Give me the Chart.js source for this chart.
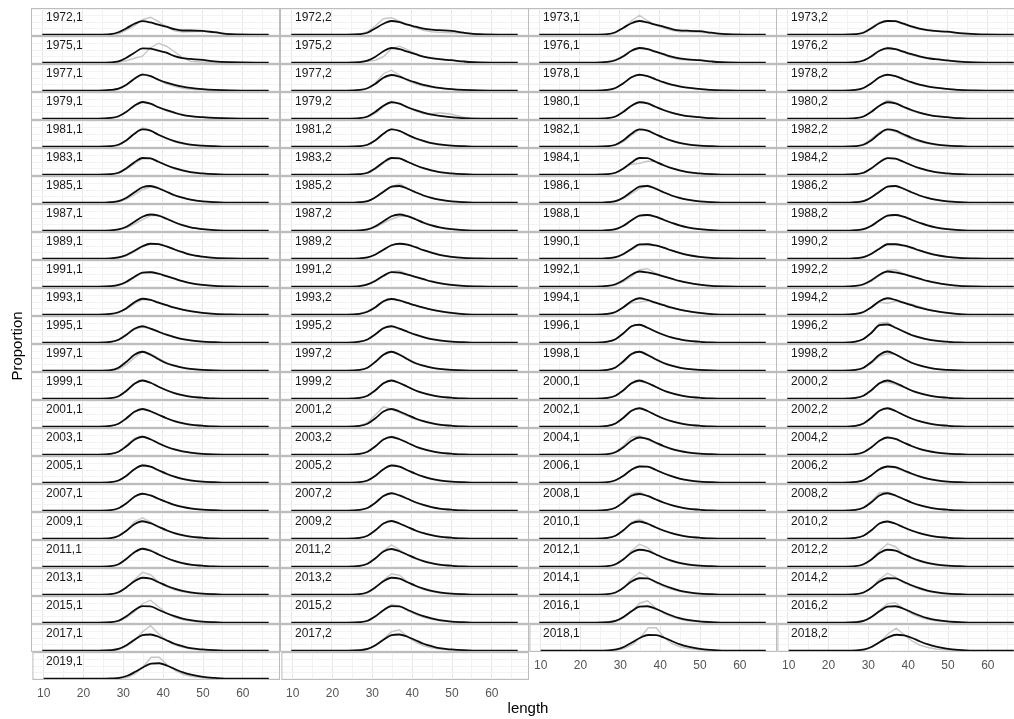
<!DOCTYPE html>
<html>
<head>
<meta charset="utf-8">
<script src="https://cdn.jsdelivr.net/npm/chart.js@4.4.0/dist/chart.umd.min.js"></script>
<style>
  html, body { margin: 0; padding: 0; background: #fff; }
  #wrap { position: relative; width: 1014px; height: 719px; overflow: hidden; background: #fff;
          font-family: "Liberation Sans", Arial, sans-serif; }
  #wrap canvas { position: absolute; }
  .lab { position: absolute; font-size: 12px; line-height: 12px; color: #1a1a1a; white-space: nowrap; }
  .ttl { position: absolute; font-size: 15px; line-height: 15px; color: #000; white-space: nowrap; }
</style>
</head>
<body>
<div id="wrap"></div>
<script>
// Length bins (cm) at which each curve is read
const lengths = [10, 24, 27, 29, 31, 33, 35, 37, 39, 41, 43, 45, 47, 50, 53, 57, 66.5];

// Facet labels "year,sex", filled row by row, four per row
const panelLabels = [
  "1972,1","1972,2","1973,1","1973,2",
  "1975,1","1975,2","1976,1","1976,2",
  "1977,1","1977,2","1978,1","1978,2",
  "1979,1","1979,2","1980,1","1980,2",
  "1981,1","1981,2","1982,1","1982,2",
  "1983,1","1983,2","1984,1","1984,2",
  "1985,1","1985,2","1986,1","1986,2",
  "1987,1","1987,2","1988,1","1988,2",
  "1989,1","1989,2","1990,1","1990,2",
  "1991,1","1991,2","1992,1","1992,2",
  "1993,1","1993,2","1994,1","1994,2",
  "1995,1","1995,2","1996,1","1996,2",
  "1997,1","1997,2","1998,1","1998,2",
  "1999,1","1999,2","2000,1","2000,2",
  "2001,1","2001,2","2002,1","2002,2",
  "2003,1","2003,2","2004,1","2004,2",
  "2005,1","2005,2","2006,1","2006,2",
  "2007,1","2007,2","2008,1","2008,2",
  "2009,1","2009,2","2010,1","2010,2",
  "2011,1","2011,2","2012,1","2012,2",
  "2013,1","2013,2","2014,1","2014,2",
  "2015,1","2015,2","2016,1","2016,2",
  "2017,1","2017,2","2018,1","2018,2",
  "2019,1"
];

// Fitted length distribution (proportion), one row per panel
const fitted = [
  [0,0,.002,.010,.026,.044,.054,.049,.040,.032,.022,.017,.017,.015,.010,.002,0],
  [0,0,.002,.008,.026,.044,.055,.050,.040,.032,.024,.020,.018,.015,.008,.002,0],
  [0,0,.002,.010,.028,.046,.055,.049,.040,.032,.023,.017,.016,.014,.008,.002,0],
  [0,0,.002,.008,.026,.046,.055,.054,.044,.033,.024,.018,.015,.012,.006,.002,0],
  [0,0,.001,.005,.020,.040,.057,.056,.048,.040,.026,.018,.015,.011,.005,.002,0],
  [0,0,.002,.008,.024,.046,.059,.054,.044,.034,.024,.018,.014,.010,.005,.001,0],
  [0,0,.003,.010,.026,.048,.059,.054,.044,.034,.024,.017,.013,.010,.005,.001,0],
  [0,0,.002,.009,.026,.048,.058,.054,.044,.034,.025,.018,.014,.009,.004,.001,0],
  [0,0,.003,.008,.024,.048,.064,.058,.044,.032,.023,.016,.011,.006,.003,.001,0],
  [0,0,.003,.010,.028,.052,.063,.056,.044,.033,.023,.016,.011,.006,.003,.001,0],
  [0,0,.003,.011,.030,.054,.064,.058,.046,.034,.024,.017,.012,.007,.003,.001,0],
  [0,0,.003,.011,.030,.054,.064,.058,.046,.034,.024,.017,.012,.007,.003,.001,0],
  [0,0,.003,.010,.028,.052,.067,.060,.046,.034,.024,.015,.010,.006,.003,.001,0],
  [0,0,.002,.009,.028,.052,.066,.060,.046,.034,.024,.016,.011,.006,.002,0,0],
  [0,0,.002,.009,.028,.052,.066,.061,.048,.035,.024,.016,.010,.006,.002,0,0],
  [0,0,.002,.009,.028,.052,.066,.061,.048,.035,.024,.016,.010,.006,.002,0,0],
  [0,0,.002,.008,.026,.052,.069,.064,.048,.034,.022,.014,.008,.004,.002,0,0],
  [0,0,.002,.008,.026,.052,.069,.063,.048,.034,.023,.014,.009,.004,.002,0,0],
  [0,0,.002,.008,.026,.052,.069,.064,.050,.036,.024,.015,.009,.004,.002,0,0],
  [0,0,.002,.008,.026,.052,.069,.064,.050,.036,.024,.015,.009,.004,.002,0,0],
  [0,0,.002,.008,.026,.050,.067,.065,.052,.038,.026,.017,.010,.005,.002,0,0],
  [0,0,.002,.008,.026,.050,.067,.065,.052,.038,.026,.017,.010,.005,.002,0,0],
  [0,0,.002,.008,.025,.049,.067,.066,.052,.038,.026,.017,.010,.005,.002,0,0],
  [0,0,.002,.008,.026,.050,.066,.064,.052,.038,.026,.017,.010,.005,.002,0,0],
  [0,0,.002,.006,.020,.042,.062,.067,.058,.044,.030,.020,.012,.005,.002,0,0],
  [0,0,.002,.006,.022,.044,.064,.067,.056,.042,.029,.019,.012,.005,.002,0,0],
  [0,0,.002,.006,.021,.044,.064,.067,.056,.042,.029,.019,.012,.005,.002,0,0],
  [0,0,.002,.006,.022,.044,.064,.067,.056,.042,.029,.019,.012,.005,.002,0,0],
  [0,0,.001,.005,.016,.036,.056,.065,.060,.048,.034,.022,.013,.006,.002,0,0],
  [0,0,.001,.005,.018,.038,.058,.065,.058,.046,.032,.021,.013,.006,.002,0,0],
  [0,0,.002,.006,.020,.042,.060,.063,.056,.044,.032,.021,.013,.006,.002,0,0],
  [0,0,.002,.006,.020,.042,.060,.063,.056,.044,.032,.021,.013,.006,.002,0,0],
  [0,0,.001,.005,.015,.032,.050,.060,.058,.049,.037,.026,.016,.008,.003,.001,0],
  [0,0,.001,.005,.017,.036,.054,.060,.056,.046,.034,.024,.015,.007,.003,.001,0],
  [0,0,.002,.006,.019,.039,.057,.058,.053,.044,.033,.023,.015,.007,.003,.001,0],
  [0,0,.002,.006,.020,.040,.058,.058,.053,.044,.033,.023,.015,.007,.003,.001,0],
  [0,0,.002,.007,.020,.040,.056,.058,.052,.042,.032,.022,.014,.007,.003,.001,0],
  [0,0,.002,.009,.024,.044,.058,.056,.048,.039,.030,.021,.014,.007,.003,.001,0],
  [0,0,.003,.010,.026,.048,.061,.057,.050,.041,.032,.023,.016,.008,.003,.001,0],
  [0,0,.003,.010,.026,.048,.061,.057,.050,.041,.032,.023,.016,.008,.003,.001,0],
  [0,0,.003,.010,.026,.050,.064,.059,.048,.038,.028,.020,.014,.007,.003,.001,0],
  [0,0,.003,.012,.030,.054,.063,.057,.047,.037,.028,.020,.014,.007,.002,0,0],
  [0,0,.003,.011,.030,.054,.066,.059,.048,.038,.028,.020,.014,.007,.002,0,0],
  [0,0,.003,.011,.030,.054,.066,.059,.048,.038,.028,.020,.014,.007,.002,0,0],
  [0,0,.003,.012,.032,.056,.066,.056,.044,.032,.022,.014,.009,.004,.002,0,0],
  [0,0,.004,.013,.034,.058,.066,.056,.044,.032,.022,.014,.009,.004,.002,0,0],
  [0,0,.004,.014,.038,.066,.072,.060,.045,.032,.021,.014,.008,.004,.001,0,0],
  [0,0,.004,.015,.040,.070,.073,.060,.045,.031,.021,.013,.008,.004,.001,0,0],
  [0,0,.002,.012,.036,.064,.076,.064,.046,.030,.020,.012,.007,.003,.001,0,0],
  [0,0,.003,.012,.036,.064,.076,.064,.046,.030,.020,.012,.007,.003,.001,0,0],
  [0,0,.003,.013,.038,.067,.076,.063,.046,.031,.020,.012,.007,.003,.001,0,0],
  [0,0,.003,.012,.035,.064,.077,.065,.048,.032,.021,.013,.007,.003,.001,0,0],
  [0,0,.002,.010,.032,.060,.073,.064,.048,.034,.022,.014,.008,.004,.001,0,0],
  [0,0,.003,.012,.034,.062,.073,.063,.048,.033,.022,.014,.008,.004,.001,0,0],
  [0,0,.003,.012,.034,.062,.073,.063,.048,.033,.022,.014,.008,.004,.001,0,0],
  [0,0,.003,.012,.034,.062,.073,.063,.048,.033,.022,.014,.008,.004,.001,0,0],
  [0,0,.003,.012,.034,.060,.071,.062,.048,.034,.022,.014,.008,.004,.001,0,0],
  [0,0,.003,.012,.034,.061,.071,.061,.047,.033,.022,.014,.008,.004,.001,0,0],
  [0,0,.003,.013,.036,.064,.074,.063,.047,.033,.022,.014,.008,.004,.001,0,0],
  [0,0,.003,.013,.036,.064,.074,.063,.047,.033,.022,.014,.008,.004,.001,0,0],
  [0,0,.003,.012,.034,.060,.072,.062,.046,.032,.021,.013,.008,.003,.001,0,0],
  [0,0,.003,.012,.034,.061,.071,.062,.048,.033,.022,.014,.008,.004,.001,0,0],
  [0,0,.002,.010,.030,.056,.069,.063,.049,.035,.023,.015,.009,.004,.002,0,0],
  [0,0,.002,.010,.030,.056,.069,.063,.049,.035,.023,.015,.009,.004,.002,0,0],
  [0,0,.002,.009,.028,.054,.069,.064,.050,.036,.024,.015,.009,.004,.002,0,0],
  [0,0,.002,.009,.028,.054,.069,.064,.050,.036,.024,.015,.009,.004,.002,0,0],
  [0,0,.002,.010,.028,.052,.065,.064,.052,.038,.026,.016,.010,.004,.002,0,0],
  [0,0,.003,.010,.030,.054,.065,.062,.050,.037,.025,.016,.010,.004,.002,0,0],
  [0,0,.002,.010,.030,.056,.068,.061,.048,.035,.023,.015,.009,.004,.002,0,0],
  [0,0,.003,.011,.032,.059,.070,.061,.048,.034,.023,.014,.008,.004,.001,0,0],
  [0,0,.003,.012,.034,.060,.067,.059,.046,.033,.022,.014,.008,.004,.001,0,0],
  [0,0,.003,.012,.034,.061,.070,.061,.047,.033,.022,.014,.008,.004,.001,0,0],
  [0,0,.002,.011,.032,.058,.070,.062,.048,.034,.022,.014,.008,.004,.001,0,0],
  [0,0,.003,.012,.034,.061,.071,.061,.047,.033,.022,.014,.008,.004,.001,0,0],
  [0,0,.003,.012,.034,.061,.069,.060,.046,.033,.022,.014,.008,.004,.001,0,0],
  [0,0,.003,.012,.034,.061,.069,.060,.046,.033,.022,.014,.008,.004,.001,0,0],
  [0,0,.002,.010,.032,.058,.072,.064,.049,.035,.023,.014,.008,.004,.001,0,0],
  [0,0,.003,.012,.034,.061,.071,.062,.048,.034,.022,.014,.008,.004,.001,0,0],
  [0,0,.002,.010,.030,.056,.068,.063,.050,.036,.024,.015,.009,.004,.002,0,0],
  [0,0,.002,.010,.029,.055,.068,.064,.050,.036,.024,.015,.009,.004,.002,0,0],
  [0,0,.002,.010,.030,.054,.068,.064,.050,.036,.024,.015,.009,.004,.002,0,0],
  [0,0,.002,.010,.030,.054,.068,.064,.050,.036,.024,.015,.009,.004,.002,0,0],
  [0,0,.002,.009,.028,.053,.066,.065,.052,.038,.026,.016,.010,.004,.002,0,0],
  [0,0,.002,.009,.028,.053,.066,.065,.052,.038,.026,.016,.010,.004,.002,0,0],
  [0,0,.002,.008,.026,.050,.066,.065,.052,.038,.026,.016,.010,.004,.002,0,0],
  [0,0,.002,.008,.026,.050,.066,.065,.052,.038,.026,.017,.010,.004,.002,0,0],
  [0,0,.002,.007,.023,.046,.064,.066,.056,.042,.029,.018,.011,.005,.002,0,0],
  [0,0,.002,.007,.023,.046,.064,.066,.056,.042,.029,.018,.011,.005,.002,0,0],
  [0,0,.002,.007,.022,.044,.062,.065,.056,.042,.028,.018,.010,.005,.002,0,0],
  [0,0,.002,.007,.022,.044,.062,.065,.056,.042,.028,.018,.010,.005,.002,0,0],
  [0,0,.001,.005,.016,.034,.052,.063,.062,.052,.038,.025,.016,.007,.003,0,0],
  [0,0,.001,.005,.017,.036,.054,.064,.061,.051,.037,.025,.016,.007,.003,0,0],
  [0,0,.001,.003,.012,.028,.046,.060,.062,.052,.038,.025,.016,.007,.003,0,0]
];

// Observed length composition (proportion), one row per panel
const observed = [
  [0,0,.001,.004,.018,.036,.060,.070,.052,.032,.016,.011,.012,.014,.008,.002,0],
  [0,0,.002,.012,.036,.064,.068,.054,.040,.028,.018,.012,.010,.008,.006,.001,0],
  [0,0,.002,.008,.026,.056,.078,.056,.038,.028,.018,.012,.012,.010,.006,.001,0],
  [0,0,.002,.010,.030,.050,.056,.053,.042,.031,.022,.017,.014,.011,.005,.001,0],
  [0,0,0,.002,.008,.018,.026,.060,.078,.066,.044,.020,.006,.002,.002,0,0],
  [0,0,.002,.006,.010,.024,.056,.066,.052,.036,.024,.017,.013,.009,.005,.001,0],
  [0,0,.004,.012,.028,.048,.058,.056,.044,.032,.020,.013,.011,.009,.005,.001,0],
  [0,0,.002,.008,.025,.048,.061,.054,.042,.032,.023,.017,.013,.009,.004,.001,0],
  [0,0,.002,.006,.024,.050,.068,.060,.042,.028,.018,.010,.006,.004,.002,0,0],
  [0,0,.002,.010,.032,.068,.082,.062,.040,.028,.019,.014,.010,.006,.002,0,0],
  [0,0,.002,.010,.029,.054,.065,.058,.045,.033,.023,.016,.011,.007,.003,0,0],
  [0,0,.002,.010,.029,.054,.065,.058,.045,.033,.023,.016,.012,.007,.003,0,0],
  [0,0,.002,.008,.028,.054,.068,.060,.044,.032,.022,.014,.009,.005,.002,.001,0],
  [0,0,.002,.006,.022,.048,.070,.060,.044,.032,.020,.020,.024,.018,.006,.001,0],
  [0,0,.002,.008,.026,.051,.068,.064,.048,.034,.023,.015,.010,.005,.002,0,0],
  [0,0,.002,.008,.026,.052,.074,.064,.045,.032,.022,.015,.010,.005,.002,0,0],
  [0,0,.001,.006,.024,.052,.076,.066,.046,.032,.020,.012,.007,.003,.001,0,0],
  [0,0,.002,.007,.025,.052,.072,.063,.046,.032,.021,.014,.008,.004,.002,0,0],
  [0,0,.001,.006,.020,.046,.068,.066,.050,.036,.023,.014,.009,.004,.002,0,0],
  [0,0,.002,.010,.032,.058,.070,.060,.044,.030,.020,.013,.008,.004,.002,0,0],
  [0,0,.001,.006,.022,.044,.064,.066,.052,.036,.024,.016,.009,.004,.002,0,0],
  [0,0,.002,.006,.022,.046,.066,.066,.052,.037,.025,.016,.010,.004,.002,0,0],
  [0,0,.002,.007,.024,.042,.046,.054,.054,.040,.027,.017,.010,.005,.002,0,0],
  [0,0,.002,.007,.024,.049,.067,.064,.051,.037,.025,.016,.010,.004,.002,0,0],
  [0,0,.001,.004,.014,.032,.052,.063,.058,.044,.030,.020,.012,.005,.002,0,0],
  [0,0,.001,.005,.020,.042,.064,.076,.058,.041,.028,.018,.011,.005,.002,0,0],
  [0,0,.001,.005,.016,.036,.056,.070,.060,.042,.028,.018,.011,.005,.002,0,0],
  [0,0,.001,.006,.021,.044,.065,.068,.056,.041,.028,.019,.011,.005,.002,0,0],
  [0,0,.001,.004,.012,.026,.044,.060,.062,.050,.034,.022,.014,.006,.002,0,0],
  [0,0,.001,.004,.014,.030,.046,.058,.058,.048,.034,.023,.014,.006,.002,0,0],
  [0,0,.001,.005,.018,.040,.060,.064,.056,.044,.031,.021,.013,.006,.002,0,0],
  [0,0,.001,.005,.018,.040,.060,.065,.057,.044,.031,.021,.013,.006,.002,0,0],
  [0,0,.001,.003,.012,.028,.048,.060,.060,.050,.038,.026,.016,.007,.002,0,0],
  [0,0,.001,.004,.016,.035,.054,.061,.056,.046,.034,.023,.014,.007,.002,0,0],
  [0,0,.001,.005,.016,.036,.054,.058,.054,.044,.033,.023,.014,.007,.002,0,0],
  [0,0,.001,.005,.018,.040,.059,.058,.052,.042,.032,.022,.014,.007,.002,0,0],
  [0,0,.001,.005,.016,.036,.056,.060,.052,.042,.032,.022,.014,.007,.002,0,0],
  [0,0,.002,.008,.022,.042,.060,.064,.050,.038,.029,.020,.013,.006,.002,0,0],
  [0,0,.002,.007,.020,.040,.068,.072,.054,.042,.032,.023,.016,.008,.003,0,0],
  [0,0,.002,.008,.022,.044,.066,.068,.052,.040,.031,.022,.015,.008,.003,0,0],
  [0,0,.002,.008,.022,.044,.060,.060,.050,.038,.028,.020,.013,.007,.002,0,0],
  [0,0,.004,.014,.030,.052,.065,.057,.046,.037,.028,.020,.013,.006,.002,0,0],
  [0,0,.002,.010,.030,.048,.050,.056,.050,.040,.030,.021,.014,.007,.002,0,0],
  [0,0,.002,.010,.030,.050,.046,.054,.050,.042,.032,.022,.014,.007,.002,0,0],
  [0,0,.002,.010,.030,.054,.063,.056,.044,.032,.022,.014,.009,.004,.002,0,0],
  [0,0,.003,.012,.034,.060,.066,.054,.043,.031,.021,.014,.008,.004,.001,0,0],
  [0,0,.003,.013,.037,.066,.073,.060,.044,.031,.021,.013,.008,.003,.001,0,0],
  [0,0,.003,.014,.040,.078,.082,.060,.044,.030,.020,.013,.008,.003,.001,0,0],
  [0,0,.001,.006,.024,.052,.076,.068,.050,.032,.020,.012,.007,.003,.001,0,0],
  [0,0,.002,.010,.034,.064,.077,.066,.048,.031,.020,.012,.007,.003,.001,0,0],
  [0,0,.002,.011,.034,.064,.078,.066,.048,.032,.020,.012,.007,.003,.001,0,0],
  [0,0,.002,.009,.030,.058,.068,.066,.049,.033,.021,.013,.007,.003,.001,0,0],
  [0,0,.002,.008,.030,.060,.074,.064,.048,.033,.021,.013,.007,.003,.001,0,0],
  [0,0,.002,.010,.032,.062,.074,.062,.047,.033,.022,.013,.008,.003,.001,0,0],
  [0,0,.002,.011,.033,.062,.070,.062,.048,.033,.022,.013,.008,.003,.001,0,0],
  [0,0,.002,.012,.036,.064,.066,.058,.046,.032,.021,.013,.008,.003,.001,0,0],
  [0,0,.002,.010,.032,.060,.072,.062,.047,.033,.021,.013,.007,.003,.001,0,0],
  [0,0,.003,.016,.048,.080,.070,.056,.042,.030,.020,.013,.007,.003,.001,0,0],
  [0,0,.002,.012,.035,.064,.075,.062,.046,.032,.021,.013,.008,.003,.001,0,0],
  [0,0,.002,.012,.035,.064,.074,.063,.047,.032,.021,.013,.008,.003,.001,0,0],
  [0,0,.002,.012,.038,.066,.074,.060,.044,.031,.020,.013,.007,.003,.001,0,0],
  [0,0,.002,.010,.032,.062,.074,.062,.046,.032,.021,.013,.008,.003,.001,0,0],
  [0,0,.002,.012,.036,.070,.076,.060,.045,.032,.022,.014,.008,.004,.001,0,0],
  [0,0,.002,.009,.029,.056,.070,.063,.048,.034,.022,.014,.008,.004,.001,0,0],
  [0,0,.002,.008,.026,.054,.073,.064,.048,.034,.023,.014,.008,.004,.001,0,0],
  [0,0,.002,.008,.027,.054,.070,.064,.049,.035,.023,.014,.008,.004,.001,0,0],
  [0,0,.002,.009,.027,.052,.066,.064,.051,.037,.025,.016,.009,.004,.002,0,0],
  [0,0,.002,.010,.030,.056,.066,.059,.047,.035,.024,.015,.009,.004,.002,0,0],
  [0,0,.002,.009,.029,.056,.069,.061,.047,.034,.022,.014,.008,.004,.001,0,0],
  [0,0,.002,.010,.031,.059,.071,.061,.047,.033,.022,.014,.008,.004,.001,0,0],
  [0,0,.003,.012,.036,.068,.074,.059,.045,.032,.022,.014,.008,.004,.001,0,0],
  [0,0,.003,.013,.038,.072,.074,.059,.045,.032,.022,.014,.008,.004,.001,0,0],
  [0,0,.002,.010,.032,.068,.084,.066,.046,.032,.021,.013,.008,.003,.001,0,0],
  [0,0,.002,.011,.033,.061,.072,.061,.046,.033,.022,.014,.008,.003,.001,0,0],
  [0,0,.002,.011,.034,.066,.078,.062,.045,.032,.022,.014,.008,.004,.001,0,0],
  [0,0,.003,.011,.033,.062,.070,.060,.045,.032,.022,.014,.008,.004,.001,0,0],
  [0,0,.002,.009,.030,.056,.074,.068,.050,.034,.022,.014,.008,.003,.001,0,0],
  [0,0,.002,.010,.032,.064,.088,.068,.046,.032,.021,.013,.007,.003,.001,0,0],
  [0,0,.002,.008,.028,.064,.090,.076,.050,.033,.021,.013,.007,.003,.001,0,0],
  [0,0,.002,.008,.028,.064,.092,.080,.050,.033,.021,.013,.007,.003,.001,0,0],
  [0,0,.002,.008,.028,.060,.090,.080,.052,.032,.020,.012,.007,.003,.001,0,0],
  [0,0,.002,.008,.028,.058,.084,.078,.052,.034,.021,.013,.007,.003,.001,0,0],
  [0,0,.002,.008,.028,.064,.090,.072,.048,.033,.022,.014,.008,.004,.001,0,0],
  [0,0,.002,.008,.028,.062,.086,.070,.048,.034,.022,.014,.008,.004,.001,0,0],
  [0,0,.001,.006,.020,.044,.076,.090,.064,.038,.022,.013,.007,.003,.001,0,0],
  [0,0,.001,.006,.024,.052,.073,.066,.048,.033,.022,.014,.008,.004,.001,0,0],
  [0,0,.001,.005,.019,.044,.078,.088,.060,.038,.024,.015,.008,.004,.001,0,0],
  [0,0,.001,.006,.022,.050,.076,.080,.056,.036,.023,.014,.008,.004,.001,0,0],
  [0,0,.001,.005,.018,.040,.076,.100,.068,.040,.024,.014,.008,.003,.001,0,0],
  [0,0,.001,.005,.020,.046,.076,.084,.056,.034,.020,.012,.007,.003,.001,0,0],
  [0,0,0,.002,.010,.024,.052,.092,.092,.052,.028,.016,.009,.004,.001,0,0],
  [0,0,.001,.003,.014,.036,.068,.090,.064,.038,.022,.013,.007,.003,.001,0,0],
  [0,0,0,.001,.006,.020,.048,.086,.086,.056,.032,.018,.010,.004,.001,0,0]
];

// Axis breaks
const xLabelTicks = [10, 20, 30, 40, 50, 60];
const xGridTicks = [10, 15, 20, 25, 30, 35, 40, 45, 50, 55, 60, 65];
const yGridTicks = [0, 0.025, 0.05, 0.075, 0.1];

// Page layout (pixels)
const NCOL = 4;
const COL_LEFT = [31, 280, 528, 776];
const PANEL_W = 249;
const PANEL_H = 28;
const TOP0 = 8;
const AXIS_H = 24;
const X_RANGE = [7.175, 69.325];
const Y_RANGE = [-0.0051, 0.1069];
const blankSlots = [{ col: 1, row: 23 }];

Chart.defaults.font.family = '"Liberation Sans", Arial, sans-serif';

const wrap = document.getElementById('wrap');

const panelFrame = {
  id: 'panelFrame',
  afterDraw(chart) {
    const a = chart.chartArea, c = chart.ctx;
    c.save();
    c.strokeStyle = '#bdbdbd';
    c.lineWidth = 1;
    c.strokeRect(a.left + 0.5, a.top + 0.5, a.right - a.left - 1, a.bottom - a.top - 1);
    c.restore();
  }
};

function toXY(vals) {
  return lengths.map((x, i) => ({ x: x, y: vals[i] }));
}

function addPanel(col, row, withAxis, fit, obs) {
  const cv = document.createElement('canvas');
  const h = PANEL_H + (withAxis ? AXIS_H : 0);
  cv.width = PANEL_W; cv.height = h;
  cv.style.width = PANEL_W + 'px'; cv.style.height = h + 'px';
  cv.style.left = COL_LEFT[col] + 'px';
  cv.style.top = (TOP0 + row * PANEL_H) + 'px';
  wrap.appendChild(cv);

  const datasets = [];
  if (fit) datasets.push({ data: toXY(fit), borderColor: '#0d0d0d', borderWidth: 1.8,
    cubicInterpolationMode: 'monotone', pointRadius: 0, order: 0 });
  if (obs) datasets.push({ data: toXY(obs), borderColor: '#c6c6c6', borderWidth: 1.4,
    tension: 0, pointRadius: 0, order: 1 });

  new Chart(cv, {
    type: 'line',
    data: { datasets },
    options: {
      responsive: false, animation: false, devicePixelRatio: 1, events: [],
      layout: { padding: 0 },
      plugins: { legend: { display: false }, tooltip: { enabled: false } },
      scales: {
        x: {
          type: 'linear', position: 'bottom', min: X_RANGE[0], max: X_RANGE[1],
          afterBuildTicks: s => { s.ticks = xGridTicks.map(v => ({ value: v })); },
          afterFit: s => { s.height = withAxis ? AXIS_H : 0; },
          ticks: {
            display: withAxis, autoSkip: false, maxRotation: 0, padding: 6,
            color: '#555555', font: { size: 12 },
            callback: v => (xLabelTicks.includes(v) ? String(v) : '')
          },
          grid: {
            drawTicks: false, lineWidth: 1,
            color: c => (c.tick && xLabelTicks.includes(c.tick.value)) ? '#e6e6e6' : '#f2f2f2'
          },
          border: { display: false }
        },
        y: {
          type: 'linear', min: Y_RANGE[0], max: Y_RANGE[1],
          afterBuildTicks: s => { s.ticks = yGridTicks.map(v => ({ value: v })); },
          afterFit: s => { s.width = 0; },
          ticks: { display: false },
          grid: { drawTicks: false, lineWidth: 1, color: '#f3f3f3' },
          border: { display: false }
        }
      }
    },
    plugins: [panelFrame]
  });
}

function addText(cls, text, left, top, extra) {
  const d = document.createElement('div');
  d.className = cls;
  d.textContent = text;
  d.style.left = left + 'px';
  d.style.top = top + 'px';
  if (extra) Object.assign(d.style, extra);
  wrap.appendChild(d);
  return d;
}

// Last occupied row in each column decides where its axis goes
const lastRow = [];
panelLabels.forEach((_, i) => { lastRow[i % NCOL] = Math.floor(i / NCOL); });
blankSlots.forEach(b => { lastRow[b.col] = Math.max(lastRow[b.col], b.row); });

panelLabels.forEach((lab, i) => {
  const col = i % NCOL, row = Math.floor(i / NCOL);
  addPanel(col, row, row === lastRow[col], fitted[i], observed[i]);
  addText('lab', lab, COL_LEFT[col] + 15, TOP0 + row * PANEL_H + 2.7);
});
blankSlots.forEach(b => addPanel(b.col, b.row, b.row === lastRow[b.col], null, null));

// Axis titles
addText('ttl', 'length', 528, 700, { transform: 'translateX(-50%)' });
addText('ttl', 'Proportion', 16, 346, { transform: 'translate(-50%,-50%) rotate(-90deg)' });
</script>
</body>
</html>
